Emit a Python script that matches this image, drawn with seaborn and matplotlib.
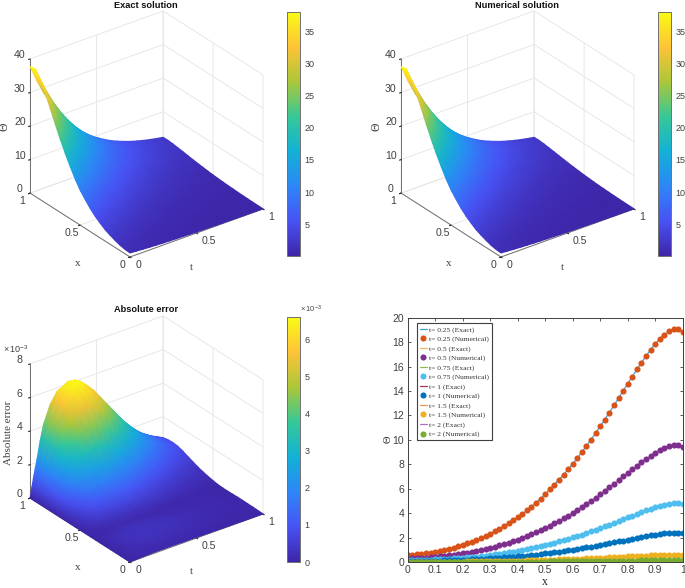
import numpy as np
import pandas as pd
import seaborn as sns
import matplotlib
matplotlib.use('Agg')
import matplotlib.pyplot as plt
from mpl_toolkits.mplot3d import proj3d

# grid of the surfaces
x_grid = [0, .05, .1, .15, .2, .25, .3, .35, .4, .45, .5, .55, .6, .65, .7, .75, .8, .85, .9, .95, 1]
t_grid = [0, .05, .1, .15, .2, .25, .3, .35, .4, .45, .5, .55, .6, .65, .7, .75, .8, .85, .9, .95, 1]
t_early = [.0125, .025, .0375, .075]

# Theta surface, one row per x, one column per t
theta_rows = [
    [1.2,1.05,.91,.79,.69,.6,.52,.45,.40,.34,.3,.26,.23,.2,.17,.15,.13,.11,.1,.09,.075],
    [1.3,1.13,.99,.86,.75,.65,.57,.49,.43,.37,.33,.28,.25,.21,.19,.16,.14,.12,.11,.09,.08],
    [1.6,1.39,1.21,1.06,.92,.8,.7,.61,.53,.46,.4,.35,.3,.26,.23,.2,.17,.15,.13,.11,.1],
    [2.1,1.83,1.59,1.39,1.21,1.05,.91,.8,.69,.6,.53,.46,.4,.35,.3,.26,.23,.2,.17,.15,.13],
    [2.7,2.35,2.05,1.78,1.55,1.35,1.17,1.02,.89,.77,.68,.59,.51,.45,.39,.34,.29,.26,.22,.19,.17],
    [3.4,2.96,2.58,2.24,1.95,1.7,1.48,1.29,1.12,.98,.85,.74,.64,.56,.49,.43,.37,.32,.28,.24,.21],
    [4.4,3.83,3.34,2.9,2.53,2.2,1.91,1.67,1.45,1.26,1.1,.96,.83,.73,.63,.55,.48,.42,.36,.32,.28],
    [5.5,4.79,4.17,3.63,3.16,2.75,2.39,2.08,1.82,1.58,1.38,1.2,1.04,.91,.79,.69,.6,.52,.45,.39,.34],
    [6.9,6.01,5.23,4.55,3.96,3.45,3.0,2.62,2.28,1.98,1.73,1.5,1.3,1.14,.99,.86,.75,.66,.57,.5,.43],
    [8.6,7.49,6.52,5.68,4.94,4.3,3.74,3.26,2.84,2.47,2.15,1.87,1.63,1.42,1.24,1.08,.94,.82,.71,.62,.54],
    [10.4,9.06,7.88,6.86,5.97,5.2,4.52,3.94,3.43,2.98,2.6,2.27,1.97,1.72,1.5,1.3,1.13,.99,.86,.75,.65],
    [12.8,11.15,9.7,8.45,7.35,6.4,5.57,4.85,4.22,3.67,3.2,2.79,2.42,2.11,1.84,1.6,1.4,1.22,1.06,.92,.8],
    [15.6,13.59,11.82,10.3,8.95,7.8,6.79,5.91,5.15,4.48,3.9,3.4,2.95,2.57,2.25,1.95,1.7,1.48,1.29,1.12,.98],
    [18.6,16.2,14.1,12.28,10.68,9.3,8.09,7.05,6.14,5.34,4.65,4.05,3.52,3.07,2.68,2.33,2.03,1.77,1.53,1.34,1.16],
    [21.9,19.07,16.6,14.45,12.57,10.95,9.53,8.3,7.23,6.29,5.48,4.77,4.14,3.61,3.15,2.74,2.39,2.08,1.81,1.57,1.37],
    [25.5,22.21,19.33,16.83,14.64,12.75,11.09,9.66,8.42,7.32,6.38,5.56,4.82,4.21,3.67,3.19,2.78,2.42,2.1,1.83,1.59],
    [29.2,25.43,22.13,19.27,16.76,14.6,12.7,11.07,9.64,8.38,7.3,6.37,5.52,4.82,4.2,3.65,3.18,2.77,2.41,2.1,1.83],
    [32.7,28.48,24.79,21.58,18.77,16.35,14.22,12.39,10.79,9.38,8.18,7.13,6.18,5.4,4.71,4.09,3.56,3.11,2.7,2.35,2.04],
    [35.8,31.18,27.14,23.63,20.55,17.9,15.57,13.57,11.81,10.27,8.95,7.8,6.77,5.91,5.16,4.48,3.9,3.4,2.95,2.57,2.24],
    [38,33.1,28.8,25.08,21.81,19,16.53,14.4,12.54,10.91,9.5,8.28,7.18,6.27,5.47,4.75,4.14,3.61,3.14,2.73,2.38],
    [37.7,32.84,28.58,24.88,21.64,18.85,16.4,14.29,12.44,10.82,9.43,8.22,7.13,6.22,5.43,4.71,4.11,3.58,3.11,2.71,2.36],
]

# absolute error surface, in units of 1e-3
error_rows = [
    [0,.02,.04,.05,.06,.06,.06,.06,.05,.05,.04,.04,.03,.03,.02,.02,.02,.01,.01,.01,.01],
    [0,.04,.08,.10,.12,.12,.12,.11,.10,.09,.08,.07,.06,.05,.05,.04,.03,.03,.02,.02,.02],
    [0,.07,.14,.18,.20,.21,.21,.19,.18,.16,.15,.13,.11,.09,.08,.07,.06,.05,.04,.03,.03],
    [0,.09,.18,.23,.26,.27,.27,.25,.23,.21,.19,.16,.14,.12,.10,.09,.07,.06,.05,.04,.03],
    [0,.11,.21,.26,.29,.30,.30,.28,.26,.23,.21,.18,.16,.14,.12,.10,.08,.07,.06,.05,.04],
    [0,.11,.20,.26,.29,.30,.29,.28,.26,.23,.21,.18,.16,.13,.12,.10,.08,.07,.06,.05,.04],
    [0,.08,.16,.21,.23,.24,.24,.22,.21,.19,.17,.15,.13,.11,.09,.08,.07,.06,.05,.04,.03],
    [0,.06,.12,.15,.17,.18,.18,.17,.15,.14,.12,.11,.09,.08,.07,.06,.05,.04,.03,.03,.02],
    [0,.04,.08,.10,.12,.12,.12,.11,.10,.09,.08,.07,.06,.05,.05,.04,.03,.03,.02,.02,.02],
    [0,.11,.21,.26,.29,.30,.30,.28,.26,.23,.21,.18,.16,.14,.12,.10,.08,.07,.06,.05,.04],
    [0,.25,.49,.62,.69,.71,.71,.67,.62,.56,.50,.44,.38,.32,.28,.23,.20,.17,.14,.11,.09],
    [0,.42,.82,1.03,1.15,1.19,1.18,1.11,1.03,.93,.83,.73,.63,.54,.46,.39,.33,.28,.23,.19,.15],
    [0,.63,1.23,1.55,1.73,1.79,1.77,1.67,1.55,1.40,1.25,1.10,.95,.81,.69,.59,.50,.42,.35,.29,.23],
    [0,.88,1.72,2.16,2.42,2.50,2.48,2.33,2.16,1.95,1.74,1.53,1.32,1.13,.97,.82,.69,.59,.48,.40,.32],
    [0,1.22,2.38,2.99,3.34,3.45,3.42,3.22,2.99,2.70,2.41,2.12,1.83,1.57,1.33,1.13,.96,.81,.67,.55,.44],
    [0,1.58,3.08,3.86,4.31,4.46,4.43,4.16,3.86,3.49,3.11,2.74,2.36,2.03,1.73,1.46,1.24,1.05,.86,.71,.56],
    [0,1.93,3.77,4.74,5.29,5.47,5.43,5.11,4.74,4.28,3.82,3.36,2.90,2.48,2.12,1.79,1.52,1.29,1.06,.87,.69],
    [0,2.21,4.31,5.41,6.04,6.25,6.20,5.83,5.41,4.88,4.36,3.83,3.31,2.84,2.42,2.05,1.73,1.47,1.21,1.00,.79],
    [0,2.31,4.51,5.67,6.33,6.60,6.49,6.11,5.67,5.12,4.57,4.02,3.47,2.97,2.53,2.15,1.82,1.54,1.27,1.05,.83],
    [0,2.27,4.43,5.56,6.21,6.43,6.37,5.99,5.56,5.02,4.48,3.94,3.40,2.92,2.48,2.11,1.78,1.51,1.24,1.03,.81],
    [0,2.1,4.1,5.15,5.75,5.95,5.9,5.55,5.15,4.65,4.15,3.65,3.15,2.7,2.3,1.95,1.65,1.4,1.15,.95,.75],
]

# extra error columns for the steep rise at small t (t_early)
error_early_rows = [
    [.01,.01,.02,.03],
    [.01,.02,.03,.06],
    [.02,.04,.06,.11],
    [.03,.05,.07,.14],
    [.03,.06,.08,.16],
    [.03,.06,.08,.16],
    [.02,.05,.07,.13],
    [.02,.03,.05,.10],
    [.01,.02,.03,.06],
    [.03,.06,.08,.16],
    [.07,.14,.2,.38],
    [.12,.23,.33,.64],
    [.18,.35,.5,.96],
    [.25,.48,.69,1.34],
    [.35,.67,.96,1.86],
    [.45,.86,1.24,2.4],
    [.55,1.06,1.52,2.94],
    [.63,1.21,1.73,3.36],
    [.66,1.27,1.82,3.52],
    [.65,1.24,1.78,3.46],
    [.6,1.15,1.65,3.2],
]

# curves of the lower right panel, 61 points from x=0 to x=1
x_points = [i / 60 for i in range(61)]
theta_t025 = [.55,.58,.62,.66,.71,.77,.85,.92,1.00,1.09,1.18,1.28,1.40,1.52,1.65,1.79,1.94,2.11,2.30,2.50,
              2.71,2.93,3.16,3.40,3.66,3.93,4.22,4.53,4.85,5.19,5.56,5.94,6.34,6.74,7.15,7.58,8.02,8.50,9.00,9.50,
              10.02,10.56,11.10,11.66,12.23,12.82,13.40,14.00,14.60,15.18,15.76,16.32,16.86,17.38,17.86,18.28,18.62,18.88,19.06,19.08,18.85]
theta_t05 = [.28,.29,.31,.33,.36,.39,.43,.46,.50,.55,.59,.64,.70,.76,.83,.90,.97,1.06,1.15,1.25,
             1.36,1.47,1.58,1.70,1.83,1.97,2.11,2.27,2.43,2.60,2.78,2.97,3.17,3.37,3.58,3.79,4.01,4.25,4.50,4.75,
             5.01,5.28,5.55,5.83,6.12,6.41,6.70,7.00,7.30,7.59,7.88,8.16,8.43,8.69,8.93,9.17,9.36,9.50,9.59,9.60,9.45]
theta_t075 = [.14,.15,.16,.17,.18,.19,.21,.23,.25,.27,.30,.32,.35,.38,.41,.45,.49,.53,.58,.63,
              .68,.73,.79,.85,.92,.98,1.06,1.13,1.21,1.30,1.39,1.49,1.59,1.69,1.79,1.90,2.01,2.13,2.25,2.38,
              2.51,2.64,2.78,2.92,3.06,3.21,3.35,3.50,3.65,3.80,3.94,4.08,4.22,4.35,4.47,4.58,4.68,4.76,4.82,4.84,4.76]
theta_t1 = [.07,.07,.08,.08,.09,.10,.11,.12,.13,.14,.15,.16,.18,.19,.21,.22,.24,.26,.29,.31,
            .34,.37,.40,.43,.46,.49,.53,.57,.61,.65,.70,.74,.79,.84,.89,.95,1.00,1.06,1.13,1.19,
            1.25,1.32,1.39,1.46,1.53,1.60,1.68,1.75,1.83,1.90,1.97,2.04,2.11,2.17,2.23,2.29,2.34,2.38,2.40,2.41,2.38]
theta_t15 = [.02,.02,.02,.02,.02,.02,.03,.03,.03,.03,.04,.04,.04,.05,.05,.06,.06,.07,.07,.08,
             .08,.09,.10,.11,.11,.12,.13,.14,.15,.16,.17,.19,.20,.21,.22,.24,.25,.27,.28,.30,
             .31,.33,.35,.36,.38,.40,.42,.44,.46,.47,.49,.51,.53,.54,.56,.57,.58,.59,.60,.60,.59]
theta_t2 = [.01,.01,.01,.01,.01,.01,.01,.01,.01,.01,.01,.01,.01,.01,.01,.01,.02,.02,.02,.02,
            .02,.02,.02,.03,.03,.03,.03,.04,.04,.04,.04,.05,.05,.05,.06,.06,.06,.07,.07,.07,
            .08,.08,.09,.09,.10,.10,.10,.11,.11,.12,.12,.13,.13,.14,.14,.14,.15,.15,.15,.15,.15]

t_names = ['0.25', '0.5', '0.75', '1', '1.5', '2']
curves = [theta_t025, theta_t05, theta_t075, theta_t1, theta_t15, theta_t2]
exact_colors = ['#3f9fdc', '#edb95e', '#8cbc50', '#a8324f', '#f0904c', '#a96fc0']
numer_colors = ['#d95319', '#7e2f8e', '#4dbeee', '#0072bd', '#edb120', '#77ac30']

parula = ['#3e26a8', '#4852f4', '#2d87f7', '#12b1d6', '#37c897', '#abc739', '#fec338', '#f9fb15']

W, H = 685, 588
TICK_COLOR = '#404040'

sns.set_style('ticks')
plt.rcParams['font.family'] = ['Liberation Sans', 'DejaVu Sans']
plt.rcParams['mathtext.default'] = 'regular'
plt.rcParams['grid.color'] = '#e4e4e4'
plt.rcParams['grid.linewidth'] = 0.6

cmap = sns.blend_palette(parula, as_cmap=True)
fig = plt.figure(figsize=(W / 100, H / 100), dpi=100)


def put_text(px, py, s, **kw):
    # text placed in pixel coordinates of the picture
    kw.setdefault('ha', 'center')
    kw.setdefault('va', 'center')
    kw.setdefault('color', TICK_COLOR)
    fig.text(px / W, 1 - py / H, s, **kw)


def place_axes(ax, origin, right):
    # move and scale the 3d box so its front corners land on the given pixels
    S0, L0, B0 = 300, 100, 100
    ax.set_position([L0 / W, B0 / H, S0 / W, S0 / H])
    ax.apply_aspect()
    M = ax.get_proj()
    zmin = ax.get_zlim()[0]
    xa, ya, _ = proj3d.proj_transform(0, 0, zmin, M)
    xb, yb, _ = proj3d.proj_transform(1, 0, zmin, M)
    pa = ax.transData.transform((xa, ya))
    pb = ax.transData.transform((xb, yb))
    a = (pa - [L0, B0]) / S0
    b = (pb - [L0, B0]) / S0
    S = (right[0] - origin[0]) / (b[0] - a[0])
    L = origin[0] - a[0] * S
    B = (H - origin[1]) - a[1] * S
    ax.set_position([L / W, B / H, S / W, S / H])
    ax.apply_aspect()


def draw_surface(ax, ts, Z):
    # smooth shaded surface: project the grid with the 3d axes, sort the
    # triangles back to front and let tripcolor shade between the read values
    T, X = np.meshgrid(ts, x_grid)
    xp, yp, depth = proj3d.proj_transform(T.ravel(), X.ravel(), Z.ravel(), ax.get_proj())
    pts = ax.transData.transform(np.column_stack([xp, yp]))
    nx, nt = Z.shape
    tris = []
    for i in range(nx - 1):
        for j in range(nt - 1):
            a, b, c, d = i * nt + j, i * nt + j + 1, (i + 1) * nt + j, (i + 1) * nt + j + 1
            tris += [[a, b, c], [b, d, c]]
    tris = np.array(tris)
    tris = tris[np.argsort(-depth[tris].mean(axis=1))]
    over = fig.add_axes([0, 0, 1, 1])
    over.axis('off')
    over.tripcolor(pts[:, 0], pts[:, 1], tris, Z.ravel(), shading='gouraud', cmap=cmap,
                   vmin=Z.min(), vmax=Z.max())
    over.set_xlim(0, W)
    over.set_ylim(0, H)


def surface_panel(ts, Z, zmax, zticks, origin):
    ax = fig.add_axes([0.1, 0.1, 0.4, 0.4], projection='3d')
    ax.set_proj_type('ortho')
    ax.view_init(elev=28.7, azim=-126.9)
    ax.set_box_aspect((1, 1, 0.92))
    ax.set_xlim(0, 1, view_margin=0)
    ax.set_ylim(0, 1, view_margin=0)
    ax.set_zlim(0, zmax, view_margin=0)
    ax.set_xticks([0, .5, 1], ['0', '0.5', '1'])
    ax.set_yticks([0, .5, 1], ['0', '0.5', '1'])
    ax.set_zticks(zticks, [str(v) for v in zticks])
    ax.tick_params(labelsize=7.6, labelcolor=TICK_COLOR)
    ax.tick_params(axis='x', pad=-2.5)
    ax.tick_params(axis='y', pad=-2)
    ax.tick_params(axis='z', pad=-3.5)
    for axis in (ax.xaxis, ax.yaxis, ax.zaxis):
        axis.set_pane_color((1, 1, 1, 0))
        axis.pane.set_edgecolor('#e4e4e4')
        axis.line.set_color('#707070')
        axis.line.set_linewidth(0.7)
        axis._axinfo['tick']['inward_factor'] = 0.15
        axis._axinfo['tick']['outward_factor'] = 0.0
        axis._axinfo['tick']['color'] = '#707070'
        for tick in axis.get_major_ticks():
            tick.label1.set_va('baseline')
    for tick in ax.xaxis.get_major_ticks():
        tick.label1.set_ha('left')
    ax.patch.set_alpha(0)
    place_axes(ax, origin, (origin[0] + 133, origin[1] - 48))
    draw_surface(ax, ts, Z)


def colorbar_panel(Z, left, top, bottom, ticks):
    cax = fig.add_axes([left / W, 1 - bottom / H, 12.5 / W, (bottom - top) / H])
    sm = plt.cm.ScalarMappable(cmap=cmap, norm=plt.Normalize(Z.min(), Z.max()))
    cb = fig.colorbar(sm, cax=cax, ticks=ticks)
    cb.ax.tick_params(labelsize=6.5, labelcolor=TICK_COLOR, length=2, width=0.5, direction='in',
                      color='#606060', pad=3.5)
    cb.outline.set_edgecolor('#707070')
    cb.outline.set_linewidth(0.7)


Z_theta = np.array(theta_rows)

# error table with the extra small t columns merged in
t_all = np.array(t_grid + t_early)
order = np.argsort(t_all)
Z_error = np.hstack([np.array(error_rows), np.array(error_early_rows)])[:, order]

# upper left, exact solution
surface_panel(t_grid, Z_theta, 40, [0, 10, 20, 30, 40], (130, 257))
colorbar_panel(Z_theta, 287, 12, 256, [5, 10, 15, 20, 25, 30, 35])
put_text(146, 5, 'Exact solution', fontsize=6.7, fontweight='bold', color='#111111')
put_text(78, 263, 'x', fontsize=8, family='Liberation Serif')
put_text(191, 267, 't', fontsize=8, family='Liberation Serif')
put_text(5, 127, '\u0398', fontsize=8.5, family='Liberation Serif', rotation=90)

# upper right, numerical solution
surface_panel(t_grid, Z_theta, 40, [0, 10, 20, 30, 40], (501, 257))
colorbar_panel(Z_theta, 658, 12, 256, [5, 10, 15, 20, 25, 30, 35])
put_text(517, 5, 'Numerical solution', fontsize=6.7, fontweight='bold', color='#111111')
put_text(449, 263, 'x', fontsize=8, family='Liberation Serif')
put_text(562, 267, 't', fontsize=8, family='Liberation Serif')
put_text(376, 127, '\u0398', fontsize=8.5, family='Liberation Serif', rotation=90)

# lower left, absolute error
surface_panel(t_all[order], Z_error, 8, [0, 2, 4, 6, 8], (130, 562))
colorbar_panel(Z_error, 287, 317, 562, [0, 1, 2, 3, 4, 5, 6])
put_text(146, 310, 'Absolute error', fontsize=6.7, fontweight='bold', color='#111111')
put_text(78, 568, 'x', fontsize=8, family='Liberation Serif')
put_text(191, 572, 't', fontsize=8, family='Liberation Serif')
put_text(9, 433, 'Absolute error', fontsize=8, family='Liberation Serif', rotation=90)
put_text(16, 349, r'$\times\,10^{-3}$', fontsize=6.5)
put_text(311, 309, r'$\times\,10^{-3}$', fontsize=5.5)

# lower right, curves at fixed t
ax4 = fig.add_axes([407.7 / W, 1 - 562 / H, 275 / W, 244.3 / H])
for name, vals, c_exact, c_numer in zip(t_names, curves, exact_colors, numer_colors):
    df = pd.DataFrame({'x': x_points, 'theta': vals})
    sns.lineplot(data=df, x='x', y='theta', color=c_exact, linewidth=0.9, errorbar=None,
                 label='t= ' + name + ' (Exact)', ax=ax4)
    sns.lineplot(data=df, x='x', y='theta', color=c_numer, linestyle='', marker='o', markersize=4.4,
                 markeredgewidth=0, errorbar=None, label='t= ' + name + ' (Numerical)', ax=ax4)
ax4.set_xlim(0, 1)
ax4.set_ylim(0, 20)
ax4.set_xticks(np.arange(0, 11) / 10, ['0', '0.1', '0.2', '0.3', '0.4', '0.5', '0.6', '0.7', '0.8', '0.9', '1'])
ax4.set_yticks(range(0, 21, 2))
ax4.tick_params(direction='in', length=2.5, width=0.6, top=True, right=True, labelsize=7.5,
                labelcolor=TICK_COLOR, color='#404040', pad=2.5)
for side in ax4.spines.values():
    side.set_linewidth(0.7)
    side.set_color('#404040')
ax4.set_xlabel('')
ax4.set_ylabel('')
put_text(545, 582, 'x', fontsize=8.5, family='Liberation Serif', color='#222222')
put_text(388, 439, '\u0398', fontsize=7.5, family='Liberation Serif', rotation=90, color='#222222')

leg = ax4.legend(loc='upper left', bbox_to_anchor=((417 - 407.7) / 275, (562 - 323) / 244.3),
                 prop={'family': 'Liberation Serif', 'size': 5.4}, labelcolor='#333333',
                 fancybox=False, framealpha=1, edgecolor='#404040', borderaxespad=0,
                 handlelength=0.9, handletextpad=0.35, labelspacing=0.39, borderpad=0.4)
leg.get_frame().set_linewidth(0.8)

fig.savefig('out.png', dpi=100)
